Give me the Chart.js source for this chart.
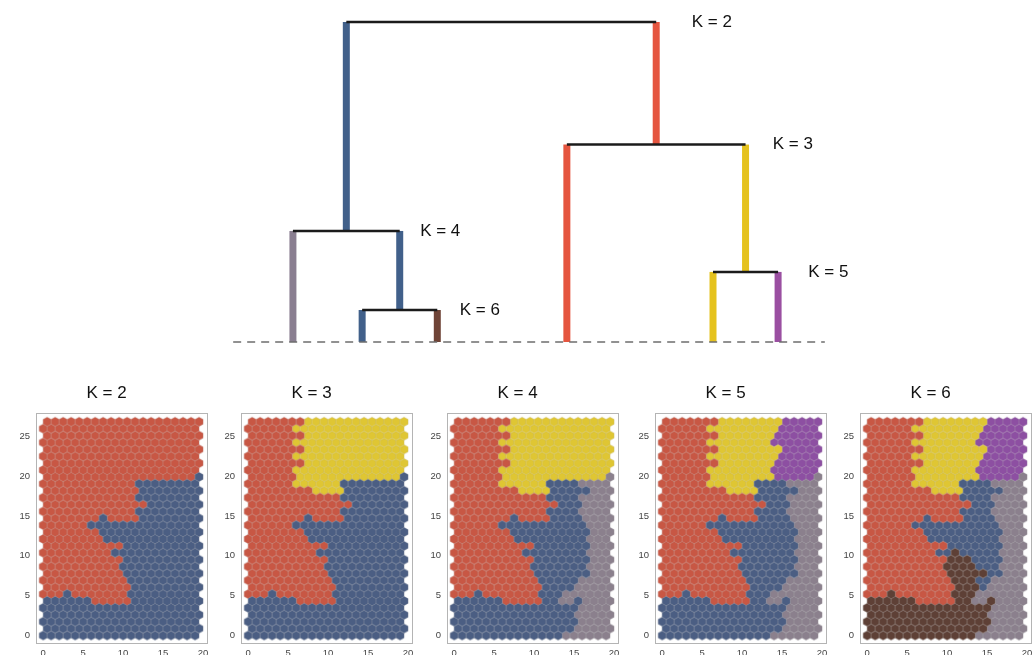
<!DOCTYPE html>
<html>
<head>
<meta charset="utf-8">
<script src="https://cdn.jsdelivr.net/npm/chart.js@4.4.1/dist/chart.umd.min.js"></script>
<style>
  html, body { margin: 0; padding: 0; background: #fff; width: 1032px; height: 655px; overflow: hidden; }
  .box { position: absolute; }
</style>
</head>
<body>
<div class="box" style="left:174px;top:0px;width:710px;height:362px"><canvas id="tree" width="710" height="362"></canvas></div>
<div class="box" style="left:6px;top:380px;width:231px;height:290px"><canvas id="map0" width="231" height="290"></canvas></div>
<div class="box" style="left:211px;top:380px;width:231px;height:290px"><canvas id="map1" width="231" height="290"></canvas></div>
<div class="box" style="left:417px;top:380px;width:231px;height:290px"><canvas id="map2" width="231" height="290"></canvas></div>
<div class="box" style="left:625px;top:380px;width:231px;height:290px"><canvas id="map3" width="231" height="290"></canvas></div>
<div class="box" style="left:830px;top:380px;width:231px;height:290px"><canvas id="map4" width="231" height="290"></canvas></div>
<script>
// ===== Dendrogram data =====
const leafNames = ["grey", "blue", "brown", "red", "yellow", "purple"];
const leafX = [10.1, 21.8, 34.5, 56.4, 81.1, 92.1];
// merges, bottom-up
const mergeNames = ["K6", "K4", "K5", "K3", "K2"];
const mergeKids = [["blue", "brown"], ["grey", "K6"], ["yellow", "purple"], ["red", "K5"], ["K4", "K3"]];
const mergeHeights = [0.10, 0.347, 0.219, 0.617, 1.0];
const mergeColours = ["blue", "blue", "yellow", "red", null];
const mergeLabels = ["K = 6", "K = 4", "K = 5", "K = 3", "K = 2"];
const labelX = [38.3, 31.6, 97.2, 91.2, 77.5];

const treeColours = { grey: "#8A7F91", blue: "#41608A", brown: "#6F4437", red: "#E5553F", yellow: "#E5C21E", purple: "#9A4FA1" };

// ===== SOM maps (20 x 32 hex grid, row 0 at bottom, K = 6 labels) =====
// R red, Y yellow, P purple, B blue, G grey, N brown
const somClusters = [
  "NNNNNNNNNNNNNNGGGGGG",
  "NNNNNNNNNNNNNNNGGGGG",
  "NNNNNNNNNNNNNNNNGGGG",
  "NNNNNNNNNNNNNNNGGGGG",
  "NNNNNNNNNNNNNNNNGGGG",
  "NNNNNNRRRRRNNGGNGGGG",
  "RRRNRRRRRRRNNNGGGGGG",
  "RRRRRRRRRRRNNNBGGGGG",
  "RRRRRRRRRRRNNNBBGGGG",
  "RRRRRRRRRRNNNNNBBGGG",
  "RRRRRRRRRRNNNNBBBGGG",
  "RRRRRRRRRRNNNBBBBGGG",
  "RRRRRRRRRBBNBBBBBGGG",
  "RRRRRRRRRRBBBBBBBGGG",
  "RRRRRRRRBBBBBBBBBGGG",
  "RRRRRRRBBBBBBBBBBGGG",
  "RRRRRRBBBBBBBBBBBGGG",
  "RRRRRRRBRRRRBBBBGGGG",
  "RRRRRRRRRRRRBBBBGGGG",
  "RRRRRRRRRRRRRBBBGGGG",
  "RRRRRRRRRRRRBBBBGGGG",
  "RRRRRRRRYYYYBBBBBGGG",
  "RRRRRRYYYYYYBBBBGGGG",
  "RRRRRRYYYYYYYYPPPPPG",
  "RRRRRRYYYYYYYYPPPPPP",
  "RRRRRRRYYYYYYYPPPPPP",
  "RRRRRRYYYYYYYYYPPPPP",
  "RRRRRRRYYYYYYYYPPPPP",
  "RRRRRRYYYYYYYYPPPPPP",
  "RRRRRRRYYYYYYYPPPPPP",
  "RRRRRRYYYYYYYYYPPPPP",
  "RRRRRRRYYYYYYYYPPPPP"
];
const clusterLetters = ["R", "Y", "P", "B", "G", "N"];
const mapTitles = ["K = 2", "K = 3", "K = 4", "K = 5", "K = 6"];
const mergeByK = [
  ["red", "red", "red", "blue", "blue", "blue"],
  ["red", "yellow", "yellow", "blue", "blue", "blue"],
  ["red", "yellow", "yellow", "blue", "grey", "blue"],
  ["red", "yellow", "purple", "blue", "grey", "blue"],
  ["red", "yellow", "purple", "blue", "grey", "brown"]
];
const mapColours = { red: "#C85744", yellow: "#DFC633", purple: "#8D4FA2", blue: "#4B5E83", grey: "#8B808D", brown: "#5E4036" };
const xTicks = [0, 5, 10, 15, 20];
const yTicks = [0, 5, 10, 15, 20, 25];

const FONT = "'Liberation Sans', Arial, sans-serif";
Chart.defaults.font.family = FONT;
Chart.defaults.animation = false;

// ===== Dendrogram =====
function buildTree() {
  const xs = {}, hs = {};
  leafNames.forEach((n, i) => { xs[n] = leafX[i]; hs[n] = 0; });
  const horiz = [], vert = [];
  mergeNames.forEach((m, i) => {
    const [a, b] = mergeKids[i];
    const h = mergeHeights[i];
    xs[m] = (xs[a] + xs[b]) / 2;
    hs[m] = h;
    horiz.push([{ x: xs[a], y: h }, { x: xs[b], y: h }]);
    [a, b].forEach(k => {
      const ci = mergeNames.indexOf(k);
      const col = ci >= 0 ? mergeColours[ci] : k;
      vert.push({ pts: [{ x: xs[k], y: hs[k] }, { x: xs[k], y: h }], col: treeColours[col] });
    });
  });

  const datasets = [];
  horiz.forEach(p => datasets.push({ data: p, borderColor: "#1b1b1b", borderWidth: 2.5 }));
  datasets.push({ data: [{ x: 0, y: 0 }, { x: 100, y: 0 }], borderColor: "#6e6e6e", borderWidth: 1.4, borderDash: [8, 6] });
  vert.forEach(v => datasets.push({ data: v.pts, borderColor: v.col, borderWidth: 7 }));
  datasets.forEach(d => Object.assign(d, { showLine: true, pointRadius: 0, borderCapStyle: "butt", clip: false }));

  const treeLabels = {
    id: "treeLabels",
    afterDatasetsDraw(chart) {
      const { ctx, scales: { x, y } } = chart;
      ctx.save();
      ctx.font = "17px " + FONT;
      ctx.fillStyle = "#111";
      ctx.textBaseline = "middle";
      mergeNames.forEach((m, i) => {
        ctx.fillText(mergeLabels[i], x.getPixelForValue(labelX[i]), y.getPixelForValue(mergeHeights[i]));
      });
      ctx.restore();
    }
  };

  new Chart(document.getElementById("tree"), {
    type: "scatter",
    data: { datasets },
    options: {
      responsive: false,
      devicePixelRatio: 1,
      layout: { padding: 0 },
      plugins: { legend: { display: false }, tooltip: { enabled: false } },
      scales: {
        x: { type: "linear", min: -10, max: 110, display: false },
        y: { type: "linear", min: -0.0625, max: 1.06875, display: false }
      }
    },
    plugins: [treeLabels]
  });
}

// ===== Hex maps =====
function hexSprite(fill, w) {
  const c = document.createElement("canvas");
  c.width = 12; c.height = 12;
  const g = c.getContext("2d");
  const r = w / Math.sqrt(3);
  g.beginPath();
  for (let k = 0; k < 6; k++) {
    const a = Math.PI / 2 + k * Math.PI / 3;
    g.lineTo(6 + r * Math.cos(a), 6 + r * Math.sin(a));
  }
  g.closePath();
  g.fillStyle = fill;
  g.fill();
  g.strokeStyle = "rgba(185,185,185,0.45)";
  g.lineWidth = 0.5;
  g.stroke();
  return c;
}

const sprites = {};
Object.keys(mapColours).forEach(k => { sprites[k] = hexSprite(mapColours[k], 8.3); });

function buildMap(idx) {
  const groups = {};
  somClusters.forEach((row, r) => {
    for (let c = 0; c < row.length; c++) {
      const colName = mergeByK[idx][clusterLetters.indexOf(row[c])];
      (groups[colName] = groups[colName] || []).push({ x: c + (r % 2) * 0.5, y: r * Math.sqrt(3) / 2 });
    }
  });
  const datasets = Object.keys(groups).map(k => ({
    data: groups[k],
    pointStyle: sprites[k],
    pointRadius: 4,
    pointHoverRadius: 4
  }));

  const frame = { display: true, color: "#b4b4b4", width: 1 };
  const noSize = s => { s.width = 0; s.height = 0; };

  new Chart(document.getElementById("map" + idx), {
    type: "scatter",
    data: { datasets },
    options: {
      responsive: false,
      devicePixelRatio: 1,
      layout: { padding: { left: 0, right: 30, top: 0, bottom: 0 } },
      plugins: {
        legend: { display: false },
        tooltip: { enabled: false },
        title: {
          display: true,
          text: mapTitles[idx],
          color: "#111",
          font: { size: 17, weight: "normal", family: FONT, lineHeight: 1.2 },
          padding: { top: 3, bottom: 10 }
        }
      },
      scales: {
        x: {
          type: "linear", min: -0.9, max: 20.5,
          border: frame,
          grid: { drawOnChartArea: false, drawTicks: false },
          afterBuildTicks: s => { s.ticks = xTicks.map(v => ({ value: v })); },
          afterFit: s => { s.height = 27; },
          ticks: { color: "#444", font: { size: 9.5 }, padding: 5, maxRotation: 0 }
        },
        y: {
          type: "linear", min: -0.95, max: 27.9,
          border: frame,
          grid: { drawOnChartArea: false, drawTicks: false },
          afterBuildTicks: s => { s.ticks = yTicks.map(v => ({ value: v })); },
          afterFit: s => { s.width = 30; },
          ticks: { color: "#444", font: { size: 9.5 }, padding: 6 }
        },
        x2: {
          type: "linear", position: "top", min: -0.9, max: 20.5,
          border: frame,
          grid: { drawOnChartArea: false, drawTicks: false },
          ticks: { display: false },
          afterFit: noSize
        },
        y2: {
          type: "linear", position: "right", min: -0.95, max: 27.9,
          border: frame,
          grid: { drawOnChartArea: false, drawTicks: false },
          ticks: { display: false },
          afterFit: noSize
        }
      }
    }
  });
}

buildTree();
for (let i = 0; i < mapTitles.length; i++) buildMap(i);
</script>
</body>
</html>
